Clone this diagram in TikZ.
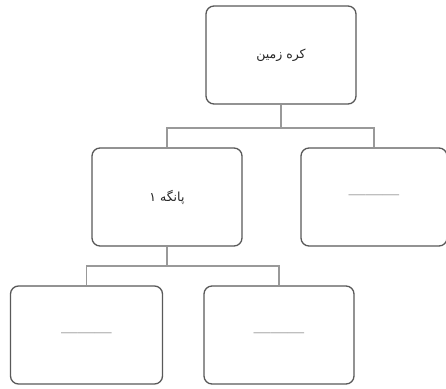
\documentclass[tikz,border=0pt]{standalone}
\usepackage{fontspec}
\newfontfamily\arabicfont[Script=Arabic]{DejaVu Sans}
\TeXXeTstate=1
\begin{document}
\begin{tikzpicture}[x=1pt,y=-1pt,
  box/.style={draw=black!65,line width=1.3pt,rounded corners=8pt,minimum width=150pt,minimum height=98pt,inner sep=0pt,fill=white},
  link/.style={draw=black!40,line width=1.2pt},
  lbl/.style={font=\arabicfont\fontsize{12.5}{14}\selectfont,text=black!85},
  dashlbl/.style={font=\bfseries\fontsize{15}{16}\selectfont,text=black!70}]
\useasboundingbox (0,0) rectangle (446,388);
\node[box] (top) at (281,55) {};
\node[lbl] at (top) {\beginR کره زمین\endR};
\node[box] (m1) at (167,197) {};
\node[lbl] at (m1) {\beginR پانگه ۱\endR};
\node[box,minimum width=146pt] (m2) at (374,197) {};
\node[dashlbl] at (m2) {———};
\node[box,minimum width=152pt] (b1) at (86.5,335) {};
\node[dashlbl] at (b1) {———};
\node[box] (b2) at (279,335) {};
\node[dashlbl] at (b2) {———};
\coordinate (j1) at (281,128);
\coordinate (j2) at (167,266);
\draw[link] (top.south) -- (j1);
\draw[link] (m1.north) |- (j1) -| (m2.north);
\draw[link] (m1.south) -- (j2);
\draw[link] (b1.north) |- (j2) -| (b2.north);
\end{tikzpicture}
\end{document}
